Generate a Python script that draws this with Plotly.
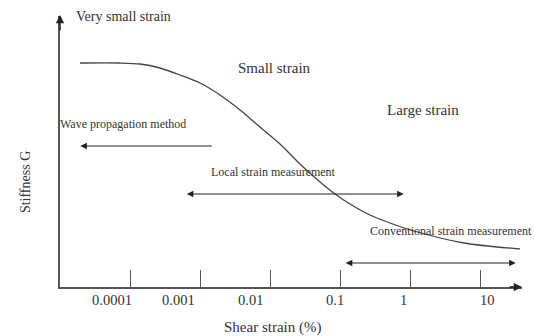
import math
import plotly.graph_objects as go

# Curve: shear strain (%) vs stiffness G (arbitrary units)
strain = [1.93e-5, 7.19e-5, 1.39e-4, 2.68e-4, 5.18e-4, 1.0e-3, 1.93e-3, 3.73e-3, 7.20e-3,
          1.39e-2, 2.68e-2, 5.18e-2, 8.48e-2, 0.139, 0.268, 0.518, 1.14, 5.9, 37.2]
stiffness = [224, 224, 223, 219, 212, 204, 192, 177, 160,
             143, 123, 105, 93, 83, 72, 64, 56, 44, 38]

tick_vals = [1e-4, 1e-3, 1e-2, 1e-1, 1, 10]
tick_text = ["0.0001", "0.001", "0.01", "0.1", "1", "10"]
tick_label_shift = [-18, -22, -20, -5, -7, 7]  # style: label offset in px

# Measurement ranges (log10 strain start/end, G level)
wave_range = [-2.81, -4.71, 141]
local_range = [-3.21, -0.09, 93]
conv_range = [-0.94, 1.51, 24]

FONT = "Liberation Serif"
TXT = "#333333"
AX = "#555555"

fig = go.Figure()
fig.add_trace(go.Scatter(x=strain, y=stiffness, mode="lines",
                         line=dict(color="#444444", width=1.3, shape="spline", smoothing=0.8),
                         showlegend=False, hoverinfo="skip"))

ann = []
def arrow(x0, x1, y, both=False):
    ann.append(dict(x=x1, y=y, ax=x0, ay=y, xref="x", yref="y", axref="x", ayref="y",
                    showarrow=True, arrowhead=2, arrowsize=1.1, arrowwidth=1.2,
                    arrowcolor="#222222", arrowside="end+start" if both else "end",
                    startarrowhead=2, startarrowsize=1.1, text=""))

arrow(wave_range[0], wave_range[1], wave_range[2])
arrow(local_range[0], local_range[1], local_range[2], both=True)
arrow(conv_range[0], conv_range[1], conv_range[2], both=True)

# axis arrowheads
ann.append(dict(x=-5, y=272, ax=-5, ay=255, xref="x", yref="y", axref="x", ayref="y",
                showarrow=True, arrowhead=2, arrowsize=1.1, arrowwidth=1.5, arrowcolor="#222222", text=""))
ann.append(dict(x=1.6, y=0, ax=1.4, ay=0, xref="x", yref="y", axref="x", ayref="y",
                showarrow=True, arrowhead=2, arrowsize=1.1, arrowwidth=1.5, arrowcolor="#222222", text=""))

def label(txt, x, y, anchor="center", size=12, xshift=0):
    ann.append(dict(x=x, y=y, xref="x", yref="y", text=txt, showarrow=False,
                    xanchor=anchor, yanchor="middle", xshift=xshift,
                    font=dict(family=FONT, size=size, color=TXT)))

label("Very small strain", -4.8, 271, "left", 14)
label("Small strain", -1.936, 219, "center", 15)
label("Large strain", 0.179, 177, "center", 15)
label("Wave propagation method", -4.999, 163, "left", 12, xshift=-2)
label("Local strain measurement", -1.95, 115, "center", 12)
label("Conventional strain measurement", 0.586, 56, "center", 12)

# tick labels
for v, t, s in zip(tick_vals, tick_text, tick_label_shift):
    ann.append(dict(x=math.log10(v), y=-0.048, xref="x", yref="paper", text=t, showarrow=False,
                    xanchor="center", yanchor="middle", xshift=s,
                    font=dict(family=FONT, size=14.5, color=TXT)))

# axis titles
ann.append(dict(x=0.459, y=-0.148, xref="paper", yref="paper", text="Shear strain (%)",
                showarrow=False, xanchor="center", yanchor="middle",
                font=dict(family=FONT, size=15, color=TXT)))
ann.append(dict(x=-0.0758, y=0.387, xref="paper", yref="paper", text="Stiffness G",
                showarrow=False, xanchor="center", yanchor="middle", textangle=-90,
                font=dict(family=FONT, size=14, color=TXT)))

fig.update_layout(
    width=534, height=336, margin=dict(l=60, r=12, t=16, b=49),
    paper_bgcolor="white", plot_bgcolor="white",
    annotations=ann,
    xaxis=dict(type="log", range=[-5, 1.6], showgrid=False, zeroline=False,
               showline=True, linecolor=AX, linewidth=2,
               tickvals=tick_vals, ticktext=tick_text, showticklabels=False,
               ticks="inside", ticklen=17, tickwidth=1.3, tickcolor=AX),
    yaxis=dict(range=[0, 271], showgrid=False, zeroline=False, showticklabels=False,
               showline=True, linecolor=AX, linewidth=2, ticks=""),
)

fig.write_html("out.html")
